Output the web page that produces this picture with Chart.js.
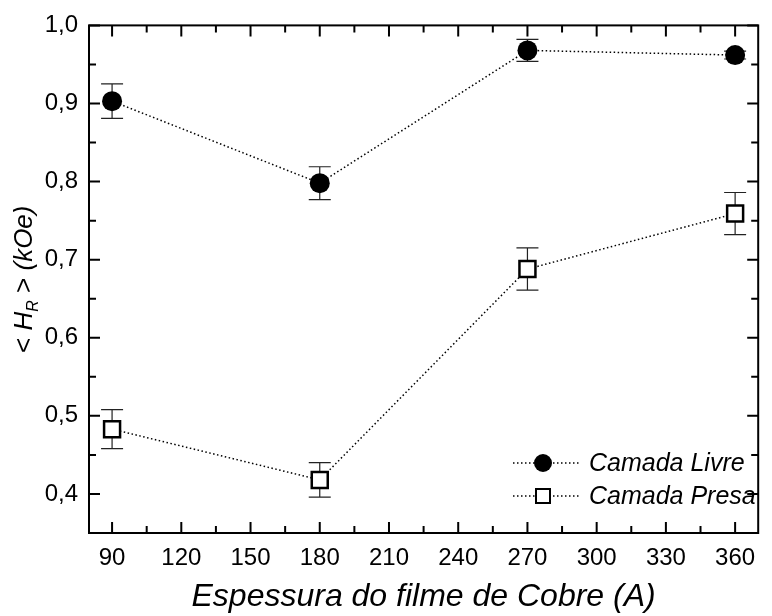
<!DOCTYPE html>
<html>
<head>
<meta charset="utf-8">
<script src="https://cdn.jsdelivr.net/npm/chart.js@4.4.0/dist/chart.umd.min.js"></script>
<style>body{margin:0;background:#fff}</style>
</head>
<body>
<canvas id="grafico" width="772" height="616"></canvas>
<script>
// espessura do filme de cobre (A)
var espessuras = [90, 180, 270, 360];
// <H_R> em kOe
var livre = [0.903, 0.798, 0.968, 0.962];
var livreErro = [0.022, 0.021, 0.014, 0.005];
var presa = [0.483, 0.418, 0.688, 0.759];
var presaErro = [0.025, 0.022, 0.027, 0.027];

var ticksX = [90, 120, 150, 180, 210, 240, 270, 300, 330, 360];
var menoresX = [105, 135, 165, 195, 225, 255, 285, 315, 345];
var ticksY = [0.4, 0.5, 0.6, 0.7, 0.8, 0.9, 1.0];
var menoresY = [0.45, 0.55, 0.65, 0.75, 0.85, 0.95];

var fonte = 'Liberation Sans, Arial, sans-serif';

function pontos(valores) {
  return espessuras.map(function (x, i) { return { x: x, y: valores[i] }; });
}

function pontilhado(ctx, x1, y1, x2, y2) {
  ctx.save();
  ctx.strokeStyle = '#000';
  ctx.lineWidth = 1.5;
  ctx.setLineDash([1.5, 2.5]);
  ctx.beginPath();
  ctx.moveTo(x1, y1);
  ctx.lineTo(x2, y2);
  ctx.stroke();
  ctx.restore();
}

var extras = {
  id: 'extras',
  beforeDatasetsDraw: function (chart) {
    var ctx = chart.ctx, sx = chart.scales.x, sy = chart.scales.y;
    ctx.save();
    ctx.strokeStyle = '#222';
    ctx.lineWidth = 1.2;
    [[livre, livreErro], [presa, presaErro]].forEach(function (s) {
      s[0].forEach(function (v, i) {
        var px = sx.getPixelForValue(espessuras[i]);
        var a = sy.getPixelForValue(v + s[1][i]);
        var b = sy.getPixelForValue(v - s[1][i]);
        ctx.beginPath();
        ctx.moveTo(px, a); ctx.lineTo(px, b);
        ctx.moveTo(px - 11, a); ctx.lineTo(px + 11, a);
        ctx.moveTo(px - 11, b); ctx.lineTo(px + 11, b);
        ctx.stroke();
      });
    });
    ctx.restore();
  },
  afterDatasetsDraw: function (chart) {
    var ctx = chart.ctx, a = chart.chartArea;
    var sx = chart.scales.x, sy = chart.scales.y;
    ctx.save();
    // moldura
    ctx.strokeStyle = '#000';
    ctx.lineWidth = 2;
    ctx.strokeRect(a.left, a.top, a.right - a.left, a.bottom - a.top);
    // marcas para dentro
    ctx.beginPath();
    function marcaX(v, len) {
      var p = sx.getPixelForValue(v);
      ctx.moveTo(p, a.bottom); ctx.lineTo(p, a.bottom - len);
      ctx.moveTo(p, a.top); ctx.lineTo(p, a.top + len);
    }
    function marcaY(v, len) {
      var p = sy.getPixelForValue(v);
      ctx.moveTo(a.left, p); ctx.lineTo(a.left + len, p);
      ctx.moveTo(a.right, p); ctx.lineTo(a.right - len, p);
    }
    ticksX.forEach(function (v) { marcaX(v, 11); });
    menoresX.forEach(function (v) { marcaX(v, 7); });
    ticksY.forEach(function (v) { marcaY(v, 11); });
    menoresY.forEach(function (v) { marcaY(v, 7); });
    ctx.stroke();

    // titulo do eixo x
    ctx.fillStyle = '#000';
    ctx.font = 'italic 32px ' + fonte;
    ctx.textAlign = 'center';
    ctx.textBaseline = 'alphabetic';
    ctx.fillText('Espessura do filme de Cobre (A)', (a.left + a.right) / 2, 606);

    // titulo do eixo y: < H_R > (kOe)
    var partes = [
      ['< ', '26px ', 0],
      ['H', 'italic 26px ', 0],
      ['R', 'italic 16px ', 6],
      [' > ', '26px ', 0],
      ['(kOe)', 'italic 26px ', 0]
    ];
    var total = 0;
    partes.forEach(function (p) { ctx.font = p[1] + fonte; total += ctx.measureText(p[0]).width; });
    ctx.translate(32, (a.top + a.bottom) / 2);
    ctx.rotate(-Math.PI / 2);
    ctx.textAlign = 'left';
    var pos = -total / 2;
    partes.forEach(function (p) {
      ctx.font = p[1] + fonte;
      ctx.fillText(p[0], pos, p[2]);
      pos += ctx.measureText(p[0]).width;
    });
    ctx.setTransform(1, 0, 0, 1, 0, 0);

    // legenda
    var itens = [['Camada Livre', 'circle', 463], ['Camada Presa', 'rect', 496]];
    itens.forEach(function (it) {
      pontilhado(ctx, 513, it[2], 580, it[2]);
      ctx.lineWidth = 2;
      ctx.strokeStyle = '#000';
      if (it[1] === 'circle') {
        ctx.fillStyle = '#000';
        ctx.beginPath();
        ctx.arc(543, it[2], 9, 0, Math.PI * 2);
        ctx.fill();
      } else {
        ctx.fillStyle = '#fff';
        ctx.fillRect(536, it[2] - 7, 14, 14);
        ctx.strokeRect(536, it[2] - 7, 14, 14);
      }
      ctx.fillStyle = '#000';
      ctx.font = 'italic 25px ' + fonte;
      ctx.textAlign = 'left';
      ctx.textBaseline = 'middle';
      ctx.fillText(it[0], 589, it[2] + 1);
    });
    ctx.restore();
  }
};

new Chart(document.getElementById('grafico'), {
  type: 'line',
  data: {
    datasets: [{
      label: 'Camada Livre',
      data: pontos(livre),
      borderColor: '#000',
      borderWidth: 1.5,
      borderDash: [1.5, 2.5],
      pointStyle: 'circle',
      pointRadius: 10,
      pointBackgroundColor: '#000',
      pointBorderColor: '#000',
      pointBorderWidth: 0,
      clip: false
    }, {
      label: 'Camada Presa',
      data: pontos(presa),
      borderColor: '#000',
      borderWidth: 1.5,
      borderDash: [1.5, 2.5],
      pointStyle: 'rect',
      pointRadius: 11.3,
      pointBackgroundColor: '#fff',
      pointBorderColor: '#000',
      pointBorderWidth: 2.5,
      clip: false
    }]
  },
  options: {
    responsive: false,
    animation: false,
    devicePixelRatio: 1,
    layout: { padding: { top: 20, right: 1, left: 0, bottom: 0 } },
    scales: {
      x: {
        type: 'linear',
        min: 80,
        max: 370,
        afterBuildTicks: function (s) { s.ticks = ticksX.map(function (v) { return { value: v }; }); },
        afterFit: function (s) { s.height = 83; },
        grid: { display: false, drawTicks: false },
        border: { display: false },
        ticks: { color: '#000', padding: 11, maxRotation: 0, font: { family: fonte, size: 24 } }
      },
      y: {
        min: 0.35,
        max: 1.0,
        afterBuildTicks: function (s) { s.ticks = ticksY.map(function (v) { return { value: v }; }); },
        afterFit: function (s) { s.width = 89; },
        grid: { display: false, drawTicks: false },
        border: { display: false },
        ticks: {
          color: '#000', padding: 11, font: { family: fonte, size: 24 },
          callback: function (v) { return v.toFixed(1).replace('.', ','); }
        }
      }
    },
    plugins: {
      legend: { display: false },
      tooltip: { enabled: false }
    }
  },
  plugins: [extras]
});
</script>
</body>
</html>
